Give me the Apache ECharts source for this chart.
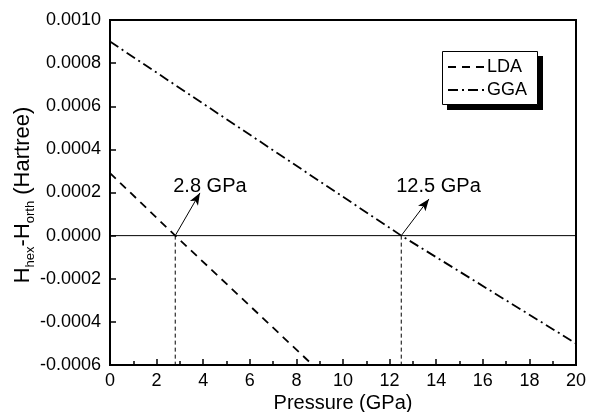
<!DOCTYPE html>
<html><head><meta charset="utf-8">
<script src="https://cdn.jsdelivr.net/npm/echarts@6/dist/echarts.min.js"></script>
<style>html,body{margin:0;padding:0;background:#fff}#c{width:596px;height:412px}</style>
</head><body><div id="c"></div>
<script>
const ldaX = [0, 2.8, 8.7];
const ldaY = [0.00029, 0, -0.0006];
const ggaX = [0, 12.5, 20];
const ggaY = [0.0009, 0, -0.0005];
const crossX = [2.8, 12.5];
const crossLabels = ['2.8 GPa', '12.5 GPa'];
const arrowTips = [[3.86, 0.000198], [13.69, 0.00017]];
const xTicks = [0, 2, 4, 6, 8, 10, 12, 14, 16, 18, 20];
const yMin = -0.0006, yMax = 0.0010, yStep = 0.0002;

const font = 'Liberation Sans, Arial, sans-serif';
const chart = echarts.init(document.getElementById('c'));
const zip = (a, b) => a.map((v, i) => [v, b[i]]);

chart.setOption({
  animation: false,
  grid: { left: 110, right: 20, top: 20, bottom: 47, show: true, borderColor: '#000', borderWidth: 2,
    containLabel: false, outerBoundsMode: 'none' },
  legend: {
    left: 443, top: 52, orient: 'vertical', itemWidth: 38, itemHeight: 10, itemGap: 5,
    padding: [6, 10, 5, 4], z: 20,
    itemStyle: { opacity: 0 },
    textStyle: { fontFamily: font, fontSize: 18, color: '#000', padding: [0, 0, 0, -4] },
    data: ['LDA', 'GGA']
  },
  xAxis: {
    type: 'value', min: 0, max: 20, interval: 2,
    name: 'Pressure (GPa)', nameLocation: 'middle', nameGap: 28, nameMoveOverlap: false,
    nameTextStyle: { fontFamily: font, fontSize: 20, color: '#000', verticalAlign: 'top' },
    axisLine: { onZero: false, lineStyle: { color: '#000', width: 2 } },
    axisTick: { inside: true, length: 6, lineStyle: { color: '#000', width: 1.5 } },
    minorTick: { show: true, splitNumber: 2, length: 4, lineStyle: { color: '#000', width: 1.5 } },
    axisLabel: { fontFamily: font, fontSize: 18, color: '#000', margin: 7,
      formatter: v => xTicks.includes(v) ? String(v) : '' },
    splitLine: { show: false }
  },
  yAxis: {
    type: 'value', min: yMin, max: yMax, interval: yStep,
    axisLine: { onZero: false, lineStyle: { color: '#000', width: 2 } },
    axisTick: { inside: true, length: 6, lineStyle: { color: '#000', width: 1.5 } },
    axisLabel: { fontFamily: font, fontSize: 18, color: '#000', margin: 9,
      formatter: v => (Math.abs(v) < 1e-12 ? 0 : v).toFixed(4) },
    splitLine: { show: false }
  },
  series: [
    { name: 'LDA', type: 'line', symbol: 'none', data: zip(ldaX, ldaY), color: '#000',
      lineStyle: { color: '#000', width: 1.8, type: [8, 6] }, z: 3 },
    { name: 'GGA', type: 'line', symbol: 'none', data: zip(ggaX, ggaY), color: '#000',
      lineStyle: { color: '#000', width: 1.8, type: [10, 4, 2, 4] }, z: 3 },
    { name: 'zero', type: 'line', symbol: 'none', data: [[0, 0], [20, 0]],
      lineStyle: { color: '#000', width: 1 }, silent: true, z: 2,
      markLine: {
        silent: true, symbol: ['none', 'arrow'], symbolSize: [7, 12],
        label: { show: false },
        lineStyle: { color: '#000', width: 1, type: 'solid' },
        data: crossX.map((x, i) => [{ coord: [x, 0] }, { coord: arrowTips[i] }])
      }
    },
    ...crossX.map((x, i) => ({
      name: 'drop' + i, type: 'line', symbol: 'none', data: [[x, 0], [x, yMin]],
      lineStyle: { color: '#000', width: 1, type: [4, 3] }, silent: true, z: 2
    }))
  ]
});

const labelDx = [-2, -5];
const gtexts = crossLabels.map((t, i) => {
  const p = chart.convertToPixel({ gridIndex: 0 }, [crossX[i], 0]);
  return { type: 'text', x: p[0] + labelDx[i], y: p[1] - 49,
    style: { text: t, font: '20px ' + font, fill: '#000', textAlign: 'left', textVerticalAlign: 'middle' } };
});
gtexts.push({
  type: 'text', rotation: Math.PI / 2, x: 23, y: 195,
  style: {
    text: '{b|H}{s|hex}{b|-H}{s|orth}{b| (Hartree)}',
    textAlign: 'center', textVerticalAlign: 'middle',
    rich: {
      b: { font: '22px ' + font, fill: '#000', verticalAlign: 'bottom' },
      s: { font: '13px ' + font, fill: '#000', verticalAlign: 'bottom', padding: [0, 0, -3, 0] }
    }
  }
});
gtexts.push({ type: 'rect', z: 10, shape: { x: 447, y: 56, width: 96, height: 54 }, style: { fill: '#000' } });
gtexts.push({ type: 'rect', z: 11, shape: { x: 442.5, y: 51.5, width: 95, height: 53 },
  style: { fill: '#fff', stroke: '#000', lineWidth: 1 } });
chart.setOption({ graphic: gtexts });
</script></body></html>
